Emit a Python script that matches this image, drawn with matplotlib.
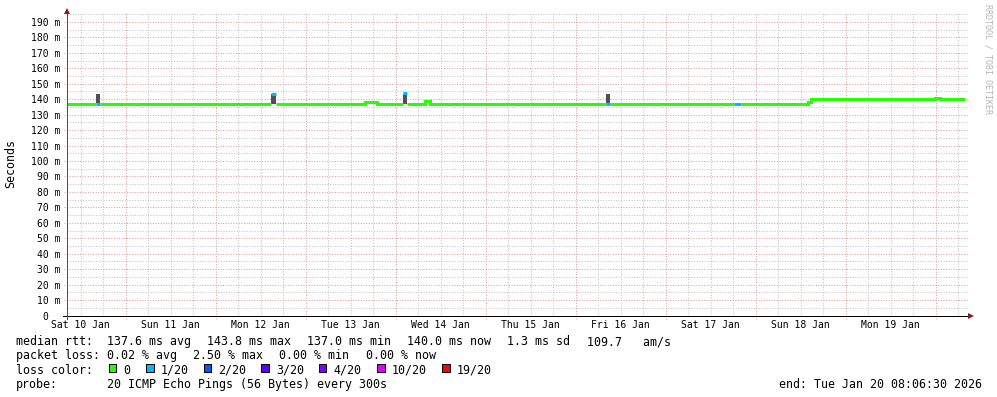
import matplotlib
matplotlib.use("Agg")
import matplotlib.pyplot as plt
import matplotlib.dates as mdates
from matplotlib.patches import Rectangle
from datetime import datetime, timedelta
import numpy as np

plt.rcParams['lines.scale_dashes'] = False
MONO = 'DejaVu Sans Mono'

# ---------------- data ----------------
end_time = datetime(2026, 1, 20, 8, 6, 30)
start_time = datetime(2026, 1, 10, 8, 6, 30)

# median rtt (ms), piecewise constant from each time until the next one
seg_times = [
    "2026-01-10 08:06", "2026-01-10 16:10", "2026-01-10 17:10",
    "2026-01-12 14:45", "2026-01-12 16:05", "2026-01-13 15:50",
    "2026-01-13 19:05", "2026-01-14 02:00", "2026-01-14 03:00",
    "2026-01-14 07:50", "2026-01-14 09:10", "2026-01-16 08:05",
    "2026-01-16 09:10", "2026-01-17 18:15", "2026-01-17 20:05",
    "2026-01-18 14:00", "2026-01-18 14:45", "2026-01-19 23:50",
    "2026-01-20 01:10", "2026-01-20 07:45",
]
seg_median = [137.0, 137.0, 137.0, 143.2, 137.0, 138.0, 137.0, 143.8, 137.0,
              139.0, 137.0, 137.0, 137.0, 137.0, 137.0, 138.0, 140.0, 140.7,
              140.0, 140.0]
seg_loss = [0, 1, 0, 1, 0, 0, 0, 1, 0, 0, 0, 1, 0, 1, 0, 0, 0, 0, 0, 0]

# smoke (spread of pings)
smoke_start = ["2026-01-10 16:10", "2026-01-12 14:45", "2026-01-14 02:00", "2026-01-16 08:05"]
smoke_end = ["2026-01-10 17:10", "2026-01-12 16:05", "2026-01-14 03:00", "2026-01-16 09:10"]
smoke_lo = [137.5, 136.8, 137.0, 137.5]
smoke_hi = [143.2, 143.4, 143.6, 143.2]

loss_labels = ["0", "1/20", "2/20", "3/20", "4/20", "10/20", "19/20"]
loss_colors = ["#26ff00", "#00b8ff", "#0059ff", "#5e00ff", "#7e00ff", "#dd00ff", "#ff0000"]

y_ticks = list(range(0, 200, 10))
day_labels = ["Sat 10 Jan", "Sun 11 Jan", "Mon 12 Jan", "Tue 13 Jan", "Wed 14 Jan",
              "Thu 15 Jan", "Fri 16 Jan", "Sat 17 Jan", "Sun 18 Jan", "Mon 19 Jan"]

rtt_items = ["137.6 ms avg", "143.8 ms max", "137.0 ms min", "140.0 ms now",
             "1.3 ms sd", "109.7   am/s"]
loss_items = ["0.02 % avg", "2.50 % max", "0.00 % min", "0.00 % now"]
probe_text = "20 ICMP Echo Pings (56 Bytes) every 300s"
end_text = "end: Tue Jan 20 08:06:30 2026"

# ---------------- layout ----------------
W, H = 997, 397
fig = plt.figure(figsize=(W / 100, H / 100), dpi=100)
fig.patch.set_facecolor("white")

ax_left, ax_right = 66.5, 968.0
ax_top, ax_bot = 13.0, 315.5
ax = fig.add_axes([ax_left / W, (H - ax_bot) / H, (ax_right - ax_left) / W, (ax_bot - ax_top) / H])
ax.set_facecolor("white")

px_per_day = 90.0
day0 = datetime(2026, 1, 11)
x0 = mdates.date2num(day0) - (125.5 - ax_left) / px_per_day
x1 = x0 + (ax_right - ax_left) / px_per_day
ax.set_xlim(x0, x1)
px_per_ms = 1.545
ymax = (ax_bot - ax_top) / px_per_ms
ax.set_ylim(0, ymax)

for s in ax.spines.values():
    s.set_visible(False)

PX = 0.72  # one pixel in points
MAJ = "#dc9c9c"
MIN = "#c2c2c2"
dash = (0, (PX, PX * 1.6))

# grid: horizontal
for v in range(5, 200, 10):
    if v < ymax:
        ax.axhline(v, color=MIN, lw=PX, ls=dash, zorder=0.5, snap=True)
for v in y_ticks[1:]:
    ax.plot([-3.0 / (ax_right - ax_left), 1.0], [v, v], transform=ax.get_yaxis_transform(),
            color=MAJ, lw=PX, ls=dash, clip_on=False, zorder=0.6, snap=True)

# grid: vertical
d = datetime(2026, 1, 10)
while d <= datetime(2026, 1, 21):
    xv = mdates.date2num(d)
    if x0 < xv < x1:
        if d.hour == 0:
            ax.plot([xv, xv], [-3.0 / (ax_bot - ax_top), 1.0], transform=ax.get_xaxis_transform(),
                    color=MAJ, lw=PX, ls=dash, clip_on=False, zorder=0.6, snap=True)
        else:
            ax.axvline(xv, color=MIN, lw=PX, ls=dash, zorder=0.5, snap=True)
    d += timedelta(hours=6)

# ---------------- marks ----------------
st = [mdates.date2num(datetime.strptime(s, "%Y-%m-%d %H:%M")) for s in smoke_start]
en = [mdates.date2num(datetime.strptime(s, "%Y-%m-%d %H:%M")) for s in smoke_end]
ax.bar(st, np.array(smoke_hi) - np.array(smoke_lo), bottom=smoke_lo,
       width=np.array(en) - np.array(st), align="edge", color="#505050", lw=0, zorder=2)

tx = [mdates.date2num(datetime.strptime(s, "%Y-%m-%d %H:%M")) for s in seg_times]
med = np.array(seg_median, dtype=float)
loss = np.array(seg_loss)
for k, col in enumerate(loss_colors):
    if not np.any(loss == k):
        continue
    yk = np.where(loss == k, med, np.nan)
    ax.step(tx, yk, where="post", color=col, lw=3 * PX, solid_capstyle="butt",
            solid_joinstyle="miter", zorder=3)

# ---------------- axes lines / arrows ----------------
ax.plot([-3.5 / (ax_right - ax_left), 1.0], [0, 0], transform=ax.transAxes, color="black",
        lw=PX, clip_on=False, zorder=4, snap=True)
ax.plot([0, 0], [-3.0 / (ax_bot - ax_top), 1.0], transform=ax.transAxes, color="#505050",
        lw=PX, clip_on=False, zorder=4, snap=True)
ax.plot([1.0 + 3.0 / (ax_right - ax_left)], [0], transform=ax.transAxes, marker=">",
        color="#8b1a1a", ms=4.5, mew=0, clip_on=False, zorder=5)
ax.plot([0], [1.0 + 2.5 / (ax_bot - ax_top)], transform=ax.transAxes, marker="^",
        color="#8b1a1a", ms=4.5, mew=0, clip_on=False, zorder=5)

# ---------------- ticks ----------------
ax.set_yticks(y_ticks[1:])
ax.set_yticklabels([f"{v} m" for v in y_ticks[1:]], fontfamily=MONO, fontsize=7)
ax.tick_params(axis="y", length=0, pad=6 * PX)
ax.annotate("0", xy=(0, 0), xycoords=ax.get_yaxis_transform(), xytext=(-18, 0),
            textcoords="offset pixels", ha="right", va="center_baseline",
            fontfamily=MONO, fontsize=7)

noon = [mdates.date2num(datetime(2026, 1, 10 + i, 12)) for i in range(len(day_labels))]
ax.set_xticks(noon)
ax.set_xticklabels(day_labels, fontfamily=MONO, fontsize=7)
ax.tick_params(axis="x", length=0, pad=5 * PX)

# ---------------- texts ----------------
def ftext(x, y, s, **kw):
    kw.setdefault("fontfamily", MONO)
    kw.setdefault("fontsize", 8.4)
    return fig.text(x / W, 1 - y / H, s, **kw)

ftext(11, 163.5, "Seconds", rotation=90, ha="center", va="center")
ftext(987.5, 4, "RRDTOOL / TOBI OETIKER", rotation=270, ha="center", va="top",
      fontsize=6, color="#b4b4b4")

base = [345.2, 359.4, 373.6, 387.8]
ftext(16, base[0], "median rtt:", va="baseline")
for xpos, s in zip([107.3, 207.3, 307.3, 407.3, 507.3, 586.7], rtt_items):
    ftext(xpos, base[0], s, va="baseline")
ftext(16, base[1], "packet loss:", va="baseline")
for xpos, s in zip([107.3, 193.3, 279.2, 365.5], loss_items):
    ftext(xpos, base[1], s, va="baseline")
ftext(16, base[2], "loss color:", va="baseline")
sq_x = [108.8, 146.0, 203.6, 261.3, 318.6, 377.0, 442.0]
for xpos, lab, col in zip(sq_x, loss_labels, loss_colors):
    fig.patches.append(Rectangle((xpos / W, 1 - 372.0 / H), 7.5 / W, 8.0 / H,
                                 transform=fig.transFigure, facecolor=col,
                                 edgecolor="black", lw=PX, figure=fig))
    ftext(xpos + 14.6, base[2], lab, va="baseline")
ftext(16, base[3], "probe:", va="baseline")
ftext(107.3, base[3], probe_text, va="baseline")
ftext(981.5, base[3], end_text, va="baseline", ha="right")

fig.savefig("out.png", dpi=100, facecolor="white")
